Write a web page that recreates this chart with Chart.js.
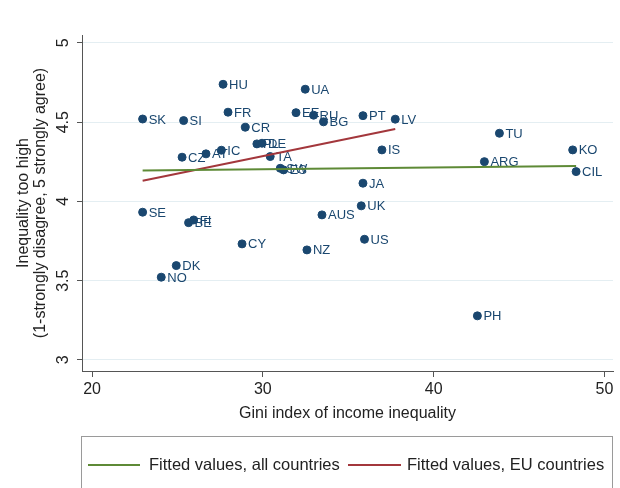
<!DOCTYPE html>
<html>
<head>
<meta charset="utf-8">
<script src="https://cdn.jsdelivr.net/npm/chart.js@4.4.1/dist/chart.umd.min.js"></script>
<style>
  html, body { margin: 0; padding: 0; background: #ffffff; }
  #wrap { width: 620px; height: 488px; }
</style>
</head>
<body>
<div id="wrap"><canvas id="c" width="620" height="488"></canvas></div>
<script>
// Country codes, Gini index and mean agreement that inequality is too high
const countries = ['HU', 'SK', 'SI', 'FR', 'CR', 'CZ', 'AT', 'IC', 'PL', 'DE', 'TA', 'SW', 'ES',
  'UA', 'EE', 'RU', 'BG', 'PT', 'LV', 'IS', 'JA', 'UK', 'AUS', 'US', 'NZ', 'CY', 'SE', 'BE', 'FI',
  'DK', 'NO', 'TU', 'ARG', 'KO', 'CIL', 'PH'];
const gini = [27.67, 22.96, 25.36, 27.96, 28.97, 25.27, 26.67, 27.57, 29.65, 29.95, 30.43, 31.02, 31.21,
  32.48, 31.94, 32.97, 33.55, 35.86, 37.75, 36.97, 35.86, 35.76, 33.46, 35.95, 32.58, 28.78, 22.96, 25.65, 25.95,
  24.93, 24.05, 43.85, 42.97, 48.14, 48.34, 42.56];
const inequality = [4.739, 4.52, 4.51, 4.563, 4.468, 4.279, 4.30, 4.323, 4.363, 4.367, 4.283, 4.209, 4.199,
  4.708, 4.56, 4.544, 4.502, 4.541, 4.519, 4.325, 4.115, 3.972, 3.915, 3.761, 3.694, 3.732, 3.932, 3.866, 3.883,
  3.595, 3.522, 4.43, 4.251, 4.325, 4.188, 3.278];

// Fitted regression lines (end points)
const fitAllGini = [22.96, 48.34];
const fitAllValue = [4.195, 4.224];
const fitEuGini = [22.96, 37.75];
const fitEuValue = [4.13, 4.457];

// Axis ticks
const giniTicks = [20, 30, 40, 50];
const agreeTicks = [3, 3.5, 4, 4.5, 5];

const legendLabels = ['Fitted values, all countries', 'Fitted values, EU countries'];

const NAVY = '#1a476f';
const GREEN = '#5e8a36';
const MAROON = '#a3373c';
const FONT = '"Liberation Sans", Arial, sans-serif';

const toPoints = (xs, ys) => xs.map((x, i) => ({ x: x, y: ys[i] }));

// Country code written to the right of each marker
const markerLabels = {
  id: 'markerLabels',
  afterDatasetDraw(chart, args) {
    if (args.index !== 0) return;
    const ctx = chart.ctx;
    ctx.save();
    ctx.font = '13px ' + FONT;
    ctx.fillStyle = NAVY;
    ctx.textAlign = 'left';
    ctx.textBaseline = 'middle';
    args.meta.data.forEach((pt, i) => {
      ctx.fillText(countries[i], pt.x + 6, pt.y + 1);
    });
    ctx.restore();
  }
};

// Vertical y tick labels and the boxed legend under the plot
const extras = {
  id: 'extras',
  afterDraw(chart) {
    const ctx = chart.ctx;
    const ys = chart.scales.y;
    ctx.save();
    ctx.font = '16px ' + FONT;
    ctx.fillStyle = '#222';
    ctx.textAlign = 'center';
    ctx.textBaseline = 'middle';
    agreeTicks.forEach(v => {
      const py = ys.getPixelForValue(v);
      ctx.save();
      ctx.translate(64, py);
      ctx.rotate(-Math.PI / 2);
      ctx.fillText(String(v), 0, 0);
      ctx.restore();
    });

    // legend box
    ctx.strokeStyle = '#9a9a9a';
    ctx.lineWidth = 1;
    ctx.strokeRect(81.5, 436.5, 531, 70);
    ctx.font = '16.5px ' + FONT;
    const ly = 465;
    const items = [
      { color: GREEN, x0: 88, x1: 140, tx: 149 },
      { color: MAROON, x0: 348, x1: 401, tx: 407 }
    ];
    items.forEach((it, i) => {
      ctx.strokeStyle = it.color;
      ctx.lineWidth = 2;
      ctx.beginPath();
      ctx.moveTo(it.x0, ly);
      ctx.lineTo(it.x1, ly);
      ctx.stroke();
      ctx.fillStyle = '#222';
      ctx.textAlign = 'left';
      ctx.fillText(legendLabels[i], it.tx, ly);
    });
    ctx.restore();
  }
};

new Chart(document.getElementById('c'), {
  type: 'scatter',
  data: {
    datasets: [
      {
        label: 'Countries',
        data: toPoints(gini, inequality),
        backgroundColor: NAVY,
        borderColor: NAVY,
        pointRadius: 4,
        pointHoverRadius: 4,
        order: 2
      },
      {
        type: 'line',
        label: legendLabels[0],
        data: toPoints(fitAllGini, fitAllValue),
        borderColor: GREEN,
        borderWidth: 2,
        pointRadius: 0,
        fill: false,
        order: 1
      },
      {
        type: 'line',
        label: legendLabels[1],
        data: toPoints(fitEuGini, fitEuValue),
        borderColor: MAROON,
        borderWidth: 2,
        pointRadius: 0,
        fill: false,
        order: 1
      }
    ]
  },
  options: {
    responsive: false,
    animation: false,
    devicePixelRatio: 1,
    layout: { padding: { left: 0, right: 7, top: 35, bottom: 65 } },
    plugins: {
      legend: { display: false },
      tooltip: { enabled: false }
    },
    scales: {
      x: {
        type: 'linear',
        min: 19.41,
        max: 50.5,
        afterBuildTicks: s => { s.ticks = giniTicks.map(v => ({ value: v })); },
        afterFit: s => { s.height = 52; },
        grid: { drawOnChartArea: false, tickLength: 6, tickColor: '#555' },
        border: { color: '#555', width: 1 },
        ticks: { font: { size: 16, family: FONT }, color: '#222', padding: 3, maxRotation: 0 },
        title: {
          display: true,
          text: 'Gini index of income inequality',
          font: { size: 16, family: FONT },
          color: '#222',
          padding: { top: 0, bottom: 0 }
        }
      },
      y: {
        type: 'linear',
        min: 2.93,
        max: 5.05,
        afterBuildTicks: s => { s.ticks = agreeTicks.map(v => ({ value: v })); },
        afterFit: s => { s.width = 82; },
        grid: { color: '#e4eef2', lineWidth: 1, tickLength: 5, tickColor: '#555' },
        border: { color: '#555', width: 1 },
        ticks: { color: 'rgba(0,0,0,0)', font: { size: 16, family: FONT } },
        title: {
          display: true,
          text: ['Inequality too high', '(1-strongly disagree, 5 strongly agree)'],
          font: { size: 16, family: FONT, lineHeight: 1.05 },
          color: '#222',
          padding: { top: 15, bottom: 0 }
        }
      }
    }
  },
  plugins: [markerLabels, extras]
});
</script>
</body>
</html>
